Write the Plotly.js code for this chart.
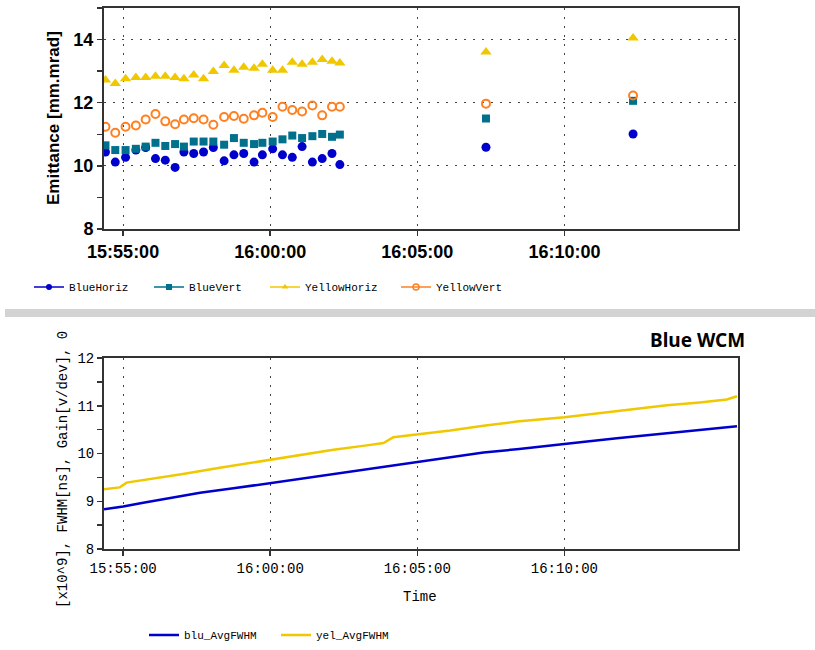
<!DOCTYPE html>
<html>
<head>
<meta charset="utf-8">
<script src="https://cdn.plot.ly/plotly-3.0.1.min.js"></script>
<style>html,body{margin:0;padding:0;background:#fff;}#chart{width:815px;height:650px;}</style>
</head>
<body>
<div id="chart"></div>
<script>
// ---- Emittance panel data ----
const DAY = '2024-01-01 ';
const emitTimes = ['15:54:24','15:54:44','15:55:05','15:55:26','15:55:46','15:56:06','15:56:26','15:56:46','15:57:04','15:57:24','15:57:44','15:58:04','15:58:26','15:58:46','15:59:06','15:59:27','15:59:44','16:00:05','16:00:25','16:00:45','16:01:05','16:01:26','16:01:46','16:02:06','16:02:22','16:07:20','16:12:20'];
const blueHoriz = [10.44,10.12,10.27,10.50,10.58,10.23,10.18,9.95,10.44,10.39,10.44,10.58,10.16,10.35,10.39,10.12,10.35,10.54,10.35,10.27,10.61,10.12,10.23,10.39,10.04,10.59,11.01];
const blueVert = [10.65,10.50,10.50,10.54,10.61,10.73,10.63,10.69,10.61,10.77,10.77,10.77,10.67,10.88,10.73,10.69,10.73,10.77,10.84,10.96,10.88,10.94,11.01,10.92,10.99,11.50,12.06];
const yellowHoriz = [12.72,12.61,12.76,12.80,12.80,12.84,12.84,12.80,12.76,12.88,12.76,12.99,13.18,13.03,13.12,13.09,13.22,13.03,13.03,13.28,13.22,13.28,13.37,13.31,13.26,13.61,14.05];
const yellowVert = [11.24,11.05,11.24,11.28,11.47,11.64,11.41,11.32,11.47,11.51,11.47,11.30,11.55,11.58,11.49,11.60,11.68,11.55,11.87,11.77,11.72,11.91,11.60,11.87,11.87,11.97,12.23];
const emitNames = ['BlueHoriz','BlueVert','YellowHoriz','YellowVert'];

// ---- Blue WCM panel data ----
const bluTimes = ['15:54:21','15:55:00','15:55:41','15:56:29','15:57:37','15:58:45','16:00:00','16:01:01','16:02:09','16:03:17','16:04:25','16:04:59','16:06:07','16:07:15','16:08:23','16:09:31','16:10:46','16:11:47','16:12:55','16:14:03','16:15:11','16:15:52'];
const bluFWHM = [8.83,8.89,8.97,9.06,9.18,9.27,9.38,9.46,9.57,9.66,9.76,9.81,9.92,10.02,10.09,10.16,10.25,10.32,10.39,10.46,10.53,10.57];
const yelTimes = ['15:54:21','15:54:53','15:55:07','15:55:54','15:57:02','15:58:11','15:59:19','16:00:00','16:01:01','16:02:09','16:03:17','16:03:51','16:04:11','16:05:05','16:06:07','16:07:15','16:08:23','16:10:00','16:11:12','16:12:21','16:13:29','16:14:36','16:15:31','16:15:52'];
const yelFWHM = [9.25,9.29,9.39,9.46,9.57,9.69,9.80,9.87,9.97,10.08,10.17,10.22,10.34,10.40,10.48,10.58,10.67,10.76,10.85,10.94,11.01,11.07,11.13,11.20];
const wcmNames = ['blu_AvgFWHM','yel_AvgFWHM'];

const xRange = [DAY + '15:54:21', DAY + '16:15:54'];
const timeTicks = ['15:55:00','16:00:00','16:05:00','16:10:00'];

const W = 815, H = 650;
const px = v => v / W;
const py = v => 1 - v / H;

const C_BLUE = '#0000cc', C_TEAL = '#00708c', C_YEL = '#f0c800', C_ORG = '#ff8020';
const emitStyles = [
  {color: C_BLUE, symbol: 'circle', size: 9, lineColor: C_BLUE, lw: 0},
  {color: C_TEAL, symbol: 'square', size: 8, lineColor: C_TEAL, lw: 0},
  {color: C_YEL, symbol: 'triangle-up', size: 10, lineColor: C_YEL, lw: 0},
  {color: C_ORG, symbol: 'circle-open', size: 8, lineColor: C_ORG, lw: 2}
];
const emitSeries = [blueHoriz, blueVert, yellowHoriz, yellowVert];
const tx = emitTimes.map(t => DAY + t);

const traces = [];
emitSeries.forEach((ys, i) => {
  const s = emitStyles[i];
  traces.push({
    type: 'scatter', mode: 'markers', x: tx, y: ys, name: emitNames[i],
    xaxis: 'x', yaxis: 'y', showlegend: false,
    marker: {color: s.color, symbol: s.symbol, size: s.size, line: {color: s.lineColor, width: s.lw}}
  });
});
// legend entries (line + marker) for the emittance panel
emitSeries.forEach((ys, i) => {
  const s = emitStyles[i];
  traces.push({
    type: 'scatter', mode: 'lines+markers', x: [null], y: [null], name: emitNames[i],
    xaxis: 'x', yaxis: 'y', legend: i === 0 ? 'legend' : 'legend' + (i + 1),
    line: {color: s.color, width: 1.5},
    marker: {color: s.color, symbol: s.symbol, size: 6, line: {color: s.lineColor, width: s.lw ? 1.5 : 0}}
  });
});
traces.push({
  type: 'scatter', mode: 'lines', x: bluTimes.map(t => DAY + t), y: bluFWHM, name: wcmNames[0],
  xaxis: 'x2', yaxis: 'y2', legend: 'legend5', line: {color: C_BLUE, width: 2.5}
});
traces.push({
  type: 'scatter', mode: 'lines', x: yelTimes.map(t => DAY + t), y: yelFWHM, name: wcmNames[1],
  xaxis: 'x2', yaxis: 'y2', legend: 'legend6', line: {color: C_YEL, width: 2.5}
});

const gridDash = '2px,7px';
const frame = {showline: true, linecolor: '#333', linewidth: 2, mirror: true, zeroline: false};
const legFont = {family: 'Liberation Mono', size: 11, color: '#000'};
function leg(x, y) {
  return {x: px(x), y: py(y), xanchor: 'left', yanchor: 'middle', orientation: 'h',
          bgcolor: 'rgba(0,0,0,0)', borderwidth: 0, font: legFont};
}
const tickDates = timeTicks.map(t => DAY + t);

const layout = {
  width: W, height: H,
  margin: {l: 0, r: 0, t: 0, b: 0},
  paper_bgcolor: '#fff', plot_bgcolor: '#fff',
  showlegend: true,
  xaxis: Object.assign({}, frame, {
    domain: [px(104), px(738)], anchor: 'y', type: 'date', range: xRange,
    tickmode: 'array', tickvals: tickDates, ticktext: timeTicks,
    ticks: 'outside', ticklen: 5, tickwidth: 1.5, tickcolor: '#333',
    showgrid: true, gridcolor: '#444', gridwidth: 1, griddash: gridDash,
    tickfont: {family: 'Liberation Sans', size: 18, weight: 'bold', color: '#000'}
  }),
  yaxis: Object.assign({}, frame, {
    domain: [py(229), py(8)], anchor: 'x', range: [8, 15], tick0: 8, dtick: 2,
    ticks: 'outside', ticklen: 5, tickwidth: 1.5, tickcolor: '#333',
    minor: {dtick: 1, ticks: 'outside', ticklen: 5, tickwidth: 1.5, tickcolor: '#333', showgrid: false},
    showgrid: true, gridcolor: '#444', gridwidth: 1, griddash: gridDash,
    tickfont: {family: 'Liberation Sans', size: 18, weight: 'bold', color: '#000'}
  }),
  xaxis2: Object.assign({}, frame, {
    domain: [px(104), px(738)], anchor: 'y2', type: 'date', range: xRange,
    tickmode: 'array', tickvals: tickDates, ticktext: timeTicks,
    ticks: 'outside', ticklen: 5, tickwidth: 1.5, tickcolor: '#333',
    showgrid: true, gridcolor: '#444', gridwidth: 1, griddash: gridDash,
    tickfont: {family: 'Liberation Mono', size: 14, color: '#000'}
  }),
  yaxis2: Object.assign({}, frame, {
    domain: [py(549), py(358)], anchor: 'x2', range: [8, 12], tick0: 8, dtick: 1,
    ticks: 'outside', ticklen: 5, tickwidth: 1.5, tickcolor: '#333',
    minor: {dtick: 0.5, ticks: 'outside', ticklen: 5, tickwidth: 1.5, tickcolor: '#333', showgrid: false},
    showgrid: false,
    tickfont: {family: 'Liberation Mono', size: 14, color: '#000'}
  }),
  legend: leg(29, 287),
  legend2: leg(149, 287),
  legend3: leg(265, 287),
  legend4: leg(396, 287),
  legend5: leg(144, 635),
  legend6: leg(276, 635),
  shapes: [
    {type: 'rect', xref: 'paper', yref: 'paper', x0: px(5), x1: 1, y0: py(317), y1: py(309),
     fillcolor: '#d3d3d3', line: {width: 0}, layer: 'below'}
  ],
  annotations: [
    {text: 'Emittance [mm.mrad]', xref: 'paper', yref: 'paper', x: px(53), y: py(118),
     textangle: -90, showarrow: false, xanchor: 'center', yanchor: 'middle',
     font: {family: 'Liberation Sans', size: 17, weight: 'bold', color: '#000'}},
    {text: '[x10^9], FWHM[ns], Gain[v/dev], 0', xref: 'paper', yref: 'paper', x: px(63), y: py(470),
     textangle: -90, showarrow: false, xanchor: 'center', yanchor: 'middle',
     font: {family: 'Liberation Mono', size: 14, color: '#000'}},
    {text: 'Time', xref: 'paper', yref: 'paper', x: px(420), y: py(597),
     showarrow: false, xanchor: 'center', yanchor: 'middle',
     font: {family: 'Liberation Mono', size: 14, color: '#000'}},
    {text: 'Blue WCM', xref: 'paper', yref: 'paper', x: px(747), y: py(340),
     showarrow: false, xanchor: 'right', yanchor: 'middle',
     font: {family: 'Noto Sans', size: 19, weight: 'bold', color: '#000'}}
  ]
};

Plotly.newPlot('chart', traces, layout, {displayModeBar: false, staticPlot: true});
</script>
</body>
</html>
